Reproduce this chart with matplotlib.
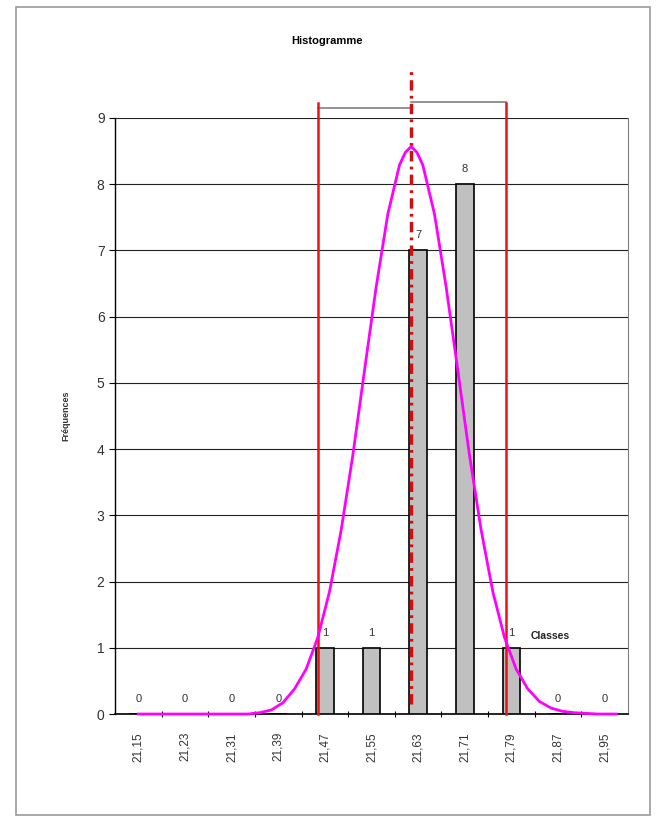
import matplotlib
matplotlib.use('Agg')
import matplotlib.pyplot as plt
from matplotlib.patches import Rectangle

plt.rcParams['font.family'] = ['Liberation Sans', 'DejaVu Sans']

# histogram data
classes = [21.15, 21.23, 21.31, 21.39, 21.47, 21.55, 21.63, 21.71, 21.79, 21.87, 21.95]
class_labels = ['21,15', '21,23', '21,31', '21,39', '21,47', '21,55',
                '21,63', '21,71', '21,79', '21,87', '21,95']
frequencies = [0, 0, 0, 0, 1, 1, 7, 8, 1, 0, 0]

# normal curve
curve_x = [21.15, 21.298, 21.338, 21.358, 21.378, 21.398, 21.418, 21.438, 21.458,
           21.478, 21.498, 21.518, 21.538, 21.558, 21.578, 21.598, 21.608, 21.618,
           21.628, 21.638, 21.658, 21.678, 21.698, 21.718, 21.738, 21.758, 21.778,
           21.798, 21.818, 21.838, 21.858, 21.878, 21.898, 21.938, 21.97]
curve_y = [0.0, 0.0, 0.0, 0.02, 0.06, 0.17, 0.38, 0.68, 1.16,
           1.85, 2.78, 3.91, 5.19, 6.45, 7.55, 8.29, 8.48, 8.57,
           8.48, 8.29, 7.55, 6.45, 5.19, 3.91, 2.78, 1.85, 1.16,
           0.68, 0.38, 0.19, 0.09, 0.04, 0.02, 0.0, 0.0]

# mean and limits (vertical lines)
mean_x = 21.618
low_x = 21.459
high_x = 21.781

fig = plt.figure(figsize=(6.62, 8.21), dpi=100)
fig.patches.append(Rectangle((0.024, 0.007), 0.958, 0.985, transform=fig.transFigure,
                             fill=False, edgecolor='#9a9a9a', linewidth=1.2))
ax = fig.add_axes([0.1737, 0.1303, 0.775, 0.726])

step = 0.08
ax.bar(classes, frequencies, width=step * 0.38, color='#c0c0c0',
       edgecolor='black', linewidth=1.2, zorder=3)

for x, f in zip(classes, frequencies):
    ax.text(x, f + 0.15, str(f), ha='center', va='bottom', fontsize=8,
            color='#333333', zorder=6)

ax.plot(curve_x, curve_y, color='#ff00ff', linewidth=2, zorder=5, clip_on=False)

ax.plot([low_x, low_x], [0, 9.23], color='#ee1111', linewidth=1.8, zorder=4, clip_on=False)
ax.plot([high_x, high_x], [0, 9.23], color='#ee1111', linewidth=1.8, zorder=4, clip_on=False)
ax.plot([mean_x, mean_x], [0.15, 9.75], color='#d01010', linewidth=2.5,
        linestyle=(0, (3, 1.5, 0.8, 1.5)), zorder=4, clip_on=False)
ax.plot([low_x, mean_x], [9.15, 9.15], color='#808080', linewidth=1.2, clip_on=False)
ax.plot([mean_x, high_x], [9.24, 9.24], color='#808080', linewidth=1.2, clip_on=False)

ax.text(21.823, 1.18, 'Classes', fontsize=7.5, fontweight='bold', color='#222222',
        ha='left', va='center', zorder=6)

ax.set_xlim(classes[0] - step / 2, classes[-1] + step / 2)
ax.set_ylim(0, 9)
ax.set_yticks(range(10))
ax.yaxis.grid(True, color='#222222', linewidth=0.8)
ax.set_axisbelow(True)
ax.tick_params(axis='y', labelsize=10, labelcolor='#333333', length=4, width=0.8)

ax.set_xticks(classes)
ax.set_xticklabels(class_labels, rotation=90, fontsize=8.5, color='#333333')
ax.set_xticks([c + step / 2 for c in classes[:-1]], minor=True)
ax.tick_params(axis='x', which='major', length=0, pad=13)
ax.tick_params(axis='x', which='minor', length=5, width=0.8, direction='inout')

ax.spines['right'].set_color('#808080')
ax.spines['top'].set_visible(False)
ax.spines['left'].set_linewidth(1)
ax.spines['bottom'].set_linewidth(1.2)

fig.text(0.494, 0.95, 'Histogramme', ha='center', va='center', fontsize=8, fontweight='bold')
fig.text(0.1, 0.493, 'Fréquences', rotation=90, ha='center', va='center',
         fontsize=6.5, fontweight='bold', color='#333333')

fig.savefig('out.png', dpi=100)
